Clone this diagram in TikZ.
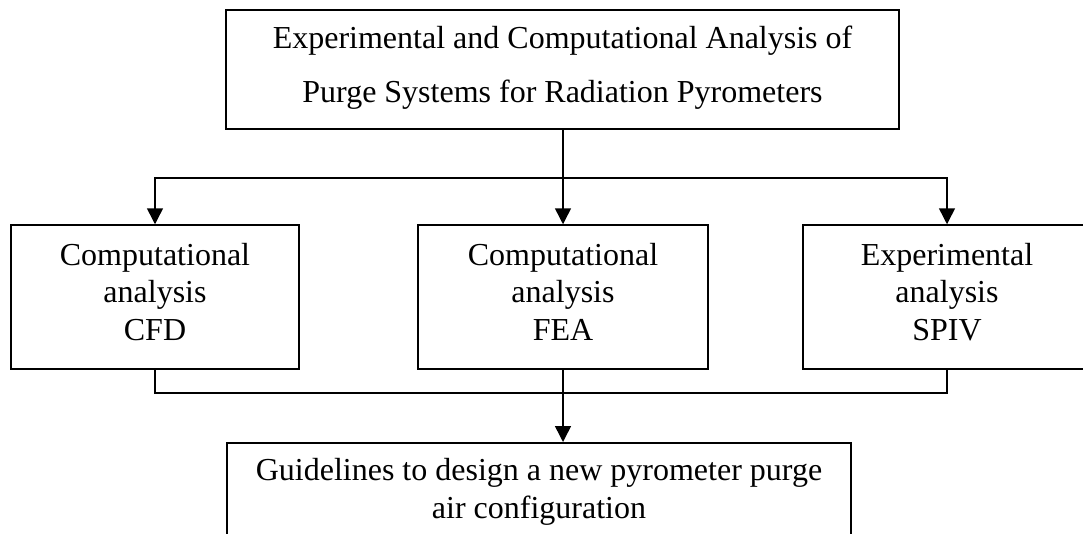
\documentclass[tikz,border=0pt]{standalone}
\usepackage{fontspec}
\setmainfont{Liberation Serif}
\usetikzlibrary{arrows.meta}
\newcommand{\topstrut}[1]{\rule{0pt}{#1pt}}
\newcommand{\botstrut}[1]{\rule[-#1pt]{0pt}{#1pt}}
\begin{document}
\begin{tikzpicture}[x=1pt,y=-1pt,
  box/.style={draw, line width=1.5pt, inner sep=0pt, align=center,
    font=\fontsize{32}{37.5}\selectfont},
  arr/.style={line width=1.5pt, -{Triangle[length=16pt,width=16pt]}},
  conn/.style={line width=1.5pt}]
\useasboundingbox (0,0) rectangle (1083,533);
\node[box, minimum width=673pt, minimum height=119pt,
  font=\fontsize{32}{54}\selectfont] (top) at (562.5,69.5)
  {\topstrut{23}Experimental and Computational Analysis of\\Purge Systems for Radiation Pyrometers\botstrut{12}};
\node[box, minimum width=288pt, minimum height=144pt] (cfd) at (155,297)
  {\topstrut{23}Computational\\analysis\\CFD\botstrut{12}};
\node[box, minimum width=290pt, minimum height=144pt] (fea) at (563,297)
  {\topstrut{23}Computational\\analysis\\FEA\botstrut{12}};
\node[box, minimum width=288pt, minimum height=144pt] (spiv) at (947,297)
  {\topstrut{23}Experimental\\analysis\\SPIV\botstrut{12}};
\node[box, minimum width=624pt, anchor=north, font=\fontsize{32}{38}\selectfont] (bot) at (539,442)
  {\topstrut{38}Guidelines to design a new pyrometer purge\\air configuration\botstrut{40}};
\coordinate (split) at (563,178);
\coordinate (join) at (563,393);
\draw[arr] (top.south -| fea.north) -- (fea.north);
\draw[arr] (split) -| (cfd.north);
\draw[arr] (split) -| (spiv.north);
\draw[conn] (cfd.south) |- (join) -| (spiv.south);
\draw[arr] (fea.south) -- (fea.south |- bot.north);
\end{tikzpicture}
\end{document}
